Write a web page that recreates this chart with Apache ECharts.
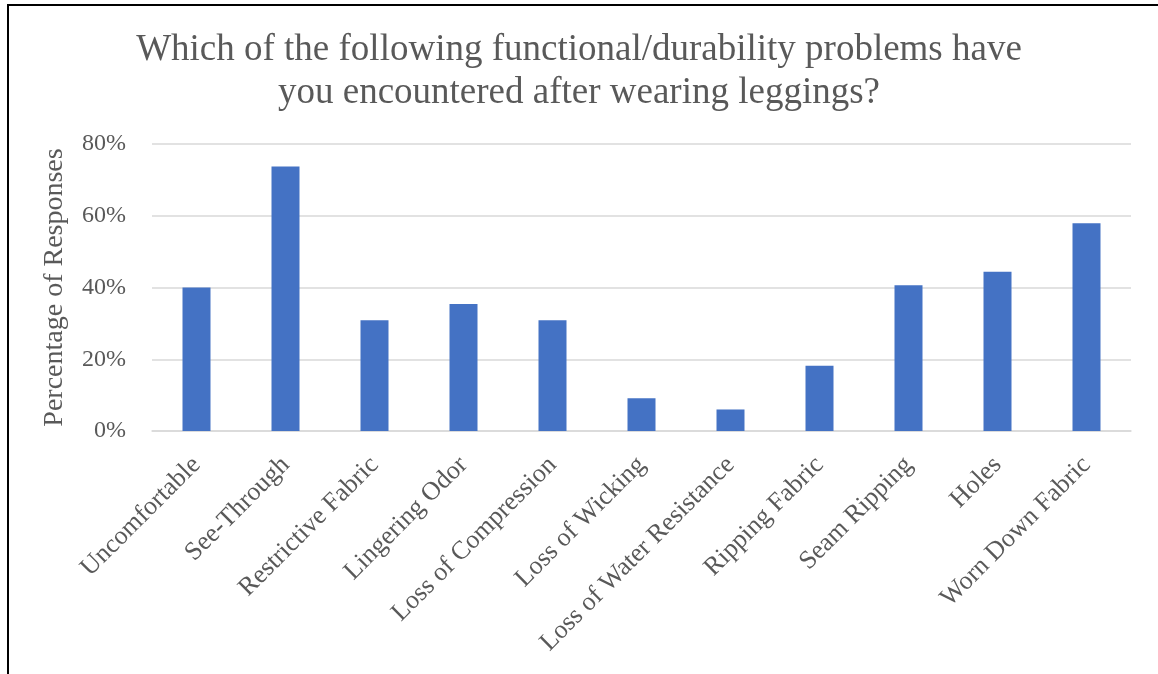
<!DOCTYPE html>
<html>
<head>
<meta charset="utf-8">
<script src="https://cdn.jsdelivr.net/npm/echarts@6/dist/echarts.min.js"></script>
<style>
	html, body { margin: 0; padding: 0; background: #fff; }
	.frame {
		position: absolute;
		left: 7px;
		top: 4px;
		width: 1160px;
		height: 680px;
		border-left: 2px solid #000;
		border-top: 2px solid #000;
		pointer-events: none;
	}
	#chart { width: 1158px; height: 674px; }
</style>
</head>
<body>
<div id="chart"></div>
<div class="frame"></div>
<script>
	var categories = ['Uncomfortable', 'See-Through', 'Restrictive Fabric', 'Lingering Odor', 'Loss of Compression',
		'Loss of Wicking', 'Loss of Water Resistance', 'Ripping Fabric', 'Seam Ripping', 'Holes', 'Worn Down Fabric'];
	var responses = [40.0, 73.7, 30.9, 35.4, 30.9, 9.1, 6.0, 18.2, 40.6, 44.4, 57.9];
	var yTicks = [0, 20, 40, 60, 80];

	var fontColor = '#595959';
	var serif = '"Liberation Serif", "Times New Roman", serif';

	var option = {
		animation: false,
		title: {
			text: 'Which of the following functional/durability problems have\nyou encountered after wearing leggings?',
			left: 'center',
			top: 24,
			textStyle: {
				fontFamily: serif,
				fontSize: 37,
				fontWeight: 'normal',
				color: fontColor,
				lineHeight: 43
			}
		},
		grid: {
			left: 152,
			right: 27,
			top: 144,
			bottom: 243,
			containLabel: false
		},
		xAxis: {
			type: 'category',
			data: categories,
			axisTick: { show: false },
			axisLine: {
				lineStyle: { color: '#d9d9d9', width: 1.5 }
			},
			axisLabel: {
				rotate: 45,
				interval: 0,
				margin: 30,
				color: fontColor,
				fontFamily: serif,
				fontSize: 26
			}
		},
		yAxis: {
			type: 'value',
			min: yTicks[0],
			max: yTicks[yTicks.length - 1],
			interval: 20,
			name: 'Percentage of Responses',
			nameLocation: 'middle',
			nameGap: 83,
			nameTextStyle: {
				color: fontColor,
				fontFamily: serif,
				fontSize: 28
			},
			axisLine: { show: false },
			axisTick: { show: false },
			axisLabel: {
				formatter: '{value}%',
				margin: 26,
				color: fontColor,
				fontFamily: serif,
				fontSize: 24
			},
			splitLine: {
				lineStyle: { color: '#d9d9d9', width: 1.5 }
			}
		},
		series: [{
			type: 'bar',
			data: responses,
			barWidth: 28,
			itemStyle: { color: '#4472c4' }
		}]
	};

	var myChart = echarts.init(document.getElementById('chart'));
	myChart.setOption(option);
</script>
</body>
</html>
